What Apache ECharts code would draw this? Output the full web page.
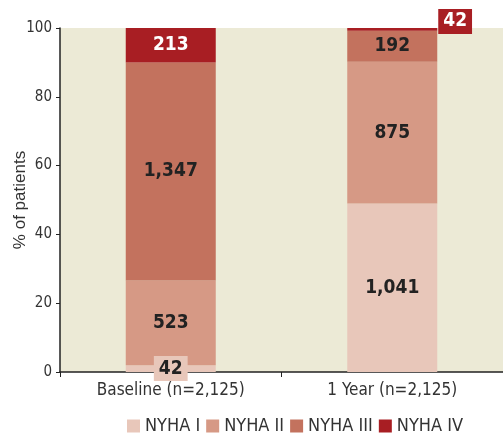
<!DOCTYPE html>
<html><head><meta charset="utf-8">
<script src="https://cdn.jsdelivr.net/npm/echarts@6/dist/echarts.min.js"></script>
<style>html,body{margin:0;padding:0;background:#fff}#c{width:503px;height:433px}</style>
</head><body><div id="c"></div>
<script>
const categories = ['Baseline (n=2,125)', '1 Year (n=2,125)'];
const totals = [2125, 2125];
const seriesNames = ['NYHA I', 'NYHA II', 'NYHA III', 'NYHA IV'];
const nyha1 = [42, 1041];
const nyha2 = [523, 875];
const nyha3 = [1347, 192];
const nyha4 = [213, 42];
const yTicks = [0, 20, 40, 60, 80, 100];
const colors = ['#E8C7BA', '#D69985', '#C3725E', '#A81E23'];
const labelColors = [['#222', '#222'], ['#222', '#222'], ['#222', '#222'], ['#fff', '#fff']];

const NF = '"DejaVu Sans Condensed","Liberation Sans",sans-serif';
const counts = [nyha1, nyha2, nyha3, nyha4];

function fmt(n){ return n.toLocaleString('en-US'); }

const series = counts.map((arr, si) => ({
  name: seriesNames[si],
  type: 'bar',
  stack: 'all',
  barWidth: 90,
  clip: true,
  itemStyle: { color: colors[si] },
  data: arr.map((v, ci) => {
    const d = { value: v / totals[ci] * 100 };
    const lab = {
      show: true,
      formatter: () => fmt(v),
      color: labelColors[si][ci],
      fontFamily: NF,
      fontWeight: 'bold',
      fontSize: 19
    };
    if (si === 0 && ci === 0) {
      Object.assign(lab, { position: 'inside', backgroundColor: '#E8C7BA', padding: [4, 5, 2, 5] });
    } else if (si === 3 && ci === 1) {
      Object.assign(lab, { position: 'right', distance: 1, offset: [0, -8], backgroundColor: '#A81E23', padding: [4, 5, 2, 5] });
    } else {
      lab.position = 'inside';
    }
    d.label = lab;
    return d;
  })
}));

const chart = echarts.init(document.getElementById('c'));
chart.setOption({
  animation: false,
  grid: { left: 60, right: 0, top: 28, bottom: 61, show: true, backgroundColor: '#ECEAD6', borderWidth: 0, outerBoundsMode: 'none', containLabel: false },
  legend: {
    data: seriesNames,
    bottom: -2, left: 127, padding: 0,
    itemWidth: 13, itemHeight: 13, itemGap: 6, itemTextGap: 4,
    icon: 'rect',
    textStyle: { fontFamily: NF, fontSize: 18, color: '#333' }
  },
  xAxis: {
    type: 'category',
    data: categories,
    axisLine: { lineStyle: { color: '#222', width: 1.5 } },
    axisTick: { show: true, length: 5, interval: 0, lineStyle: { color: '#222' } },
    axisLabel: { fontFamily: NF, fontSize: 17, color: '#333', margin: 10 }
  },
  yAxis: {
    type: 'value',
    min: yTicks[0], max: yTicks[yTicks.length - 1], interval: 20,
    name: '% of patients',
    nameLocation: 'middle',
    nameGap: 31,
    nameMoveOverlap: false,
    nameTextStyle: { fontFamily: '"Liberation Sans",sans-serif', fontSize: 17, color: '#333' },
    axisLine: { show: true, lineStyle: { color: '#222', width: 1.5 } },
    axisTick: { show: true, length: 4, lineStyle: { color: '#222' } },
    axisLabel: { fontFamily: NF, fontSize: 15, color: '#333', margin: 8 },
    splitLine: { show: false }
  },
  series: series
});
</script></body></html>
